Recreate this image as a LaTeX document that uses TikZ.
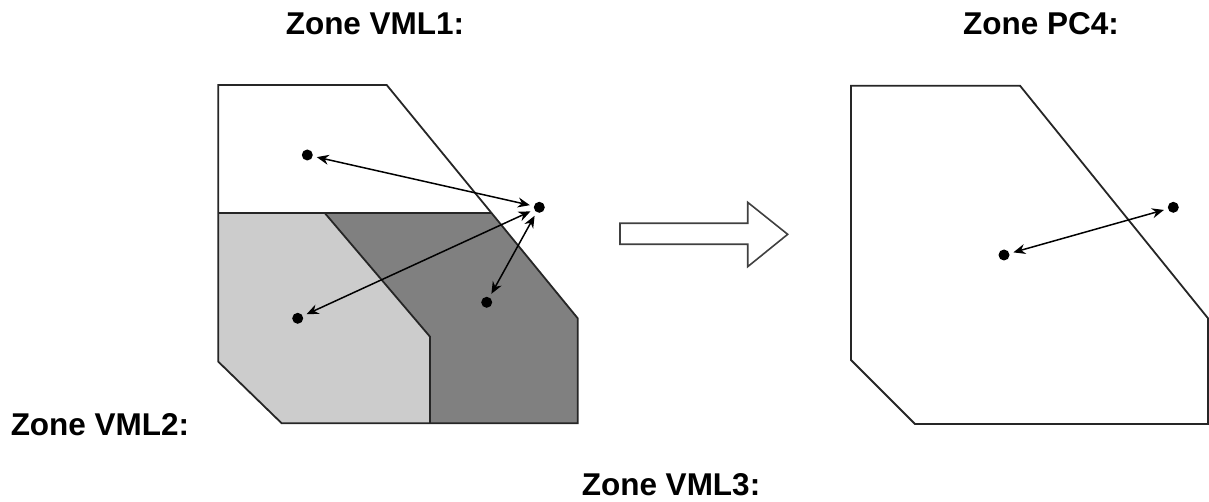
\documentclass[tikz,border=0pt]{standalone}
\usepackage{fontspec}
\setmainfont{Liberation Sans}
\usetikzlibrary{arrows.meta}
\definecolor{lightzone}{HTML}{CCCCCC}
\definecolor{darkzone}{HTML}{808080}

\begin{document}
\begin{tikzpicture}[x=1pt,y=-1pt,
  zone/.style={draw=black!85,line width=1.8pt},
  hollow/.style={draw=black!75,line width=1.6pt,fill=white},
  dot/.style={circle,fill=black,inner sep=0pt,minimum size=11pt},
  link/.style={{Stealth[length=12pt,width=10pt]}-{Stealth[length=12pt,width=10pt]},
               line width=1.5pt,shorten <=4pt,shorten >=4pt},
  title/.style={anchor=base,inner sep=0pt,font=\fontsize{31.5}{36}\selectfont\bfseries}
]
\useasboundingbox (0,0) rectangle (1209,502);

\fill[lightzone] (218.3,213.3) -- (325,213.3) -- (430,336.7) -- (430,423.3)
  -- (281.7,423.3) -- (218.3,361.7) -- cycle;
\fill[darkzone] (325,213.3) -- (491.7,213.3) -- (577.7,318.3) -- (577.7,423.3)
  -- (430,423.3) -- (430,336.7) -- cycle;
\draw[zone] (218.3,213.3) -- (491.7,213.3);
\draw[zone] (325,213.3) -- (430,336.7) -- (430,423.3);
\draw[zone] (218.3,85) -- (386.7,85) -- (577.7,318.3) -- (577.7,423.3)
  -- (281.7,423.3) -- (218.3,361.7) -- cycle;

\draw[zone] (851,85.7) -- (1020,85.7) -- (1208,318.3) -- (1208,424)
  -- (915,424) -- (851,360) -- cycle;

\draw[hollow] (620,223.3) -- (747.7,223.3) -- (747.7,202.3) -- (787.7,234.3)
  -- (747.7,266.7) -- (747.7,244.3) -- (620,244.3) -- cycle;

\node[dot] (a) at (307.3,155) {};
\node[dot] (b) at (539.3,207.3) {};
\node[dot] (c) at (297.7,318.3) {};
\node[dot] (d) at (486.7,302.3) {};
\node[dot] (p) at (1004,255) {};
\node[dot] (q) at (1173.3,207.3) {};

\draw[link] (b) -- (a);
\draw[link] (b) -- (c);
\draw[link] (b) -- (d);
\draw[link] (q) -- (p);

\node[title] (vml1) at (375,35) {Zone VML1:};
\node[title] (pc4) at (1041,35) {Zone PC4:};
\node[title] (vml2) at (100,435) {Zone VML2:};
\node[title] (vml3) at (671,495) {Zone VML3:};
\end{tikzpicture}
\end{document}
